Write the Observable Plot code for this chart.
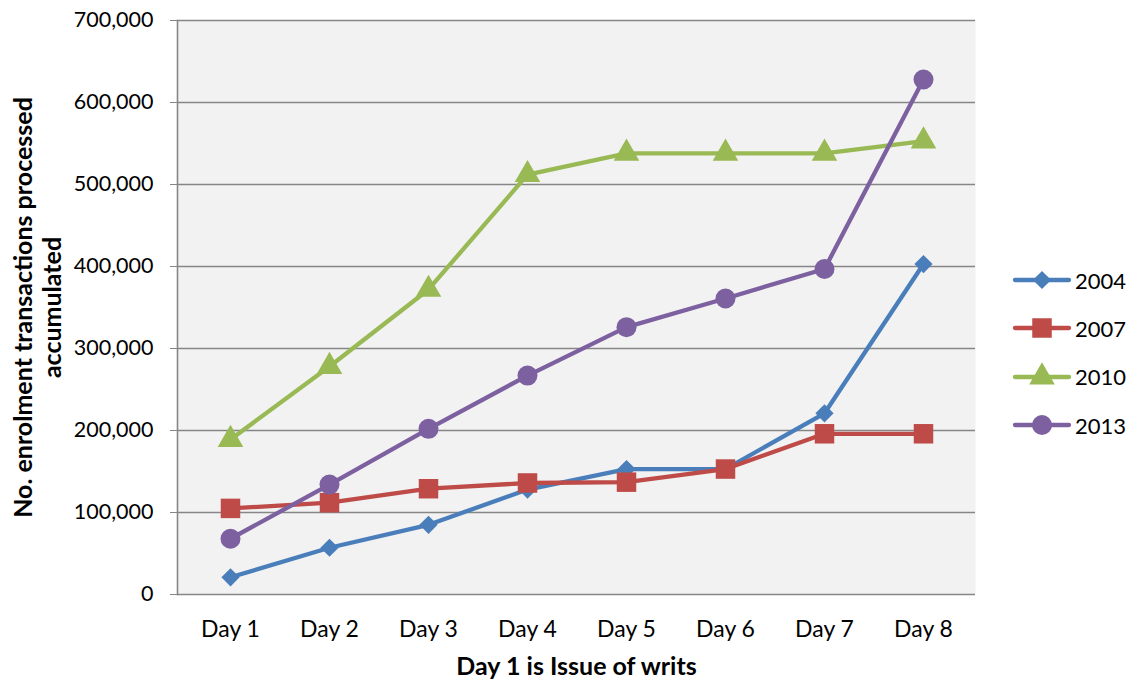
<!DOCTYPE html>
<html>
<head>
<meta charset="utf-8">
<script src="https://cdn.jsdelivr.net/npm/d3@7"></script>
<script src="https://cdn.jsdelivr.net/npm/@observablehq/plot@0.6"></script>
<style>
  html, body { margin: 0; padding: 0; background: #fff; }
  #wrap { position: relative; width: 1134px; height: 683px; font-family: Lato, "Open Sans", sans-serif; }
  #chart { position: absolute; left: 0; top: 0; }
  #legend { position: absolute; left: 1010px; top: 256px; }
  .item { display: flex; align-items: center; height: 48.3px; font-size: 22px; color: #000; }
  .item svg { margin-right: 3px; }
</style>
</head>
<body>
<div id="wrap"><div id="chart"></div><div id="legend"></div></div>
<script>
const days = ["Day 1", "Day 2", "Day 3", "Day 4", "Day 5", "Day 6", "Day 7", "Day 8"];
const series = ["2004", "2007", "2010", "2013"];
const v2004 = [21000, 57000, 85000, 128000, 153000, 153000, 221000, 403000];
const v2007 = [105000, 112000, 129000, 136000, 137000, 153000, 196000, 196000];
const v2010 = [189000, 278000, 372000, 512000, 538000, 538000, 538000, 553000];
const v2013 = [68000, 134000, 202000, 267000, 326000, 361000, 397000, 628000];
const yTicks = [0, 100000, 200000, 300000, 400000, 500000, 600000, 700000];
const colors = ["#4a7ebb", "#be4b48", "#98b954", "#7d60a0"];
const symbols = ["diamond2", "square", "triangle", "circle"];
const radii = [8.2, 11, 9.5, 10];
const yTitle = "No. enrolment transactions processed\naccumulated";
const xTitle = "Day 1 is Issue of writs";

const values = [v2004, v2007, v2010, v2013];
const data = series.flatMap((s, i) => days.map((d, j) => ({series: s, day: d, value: values[i][j]})));

const marks = [
  Plot.frame({fill: "#f2f2f2", stroke: null}),
  Plot.gridY(yTicks, {stroke: "#868686", strokeOpacity: 1, strokeWidth: 1.6}),
  Plot.frame({anchor: "left", stroke: "#868686", strokeWidth: 1.6}),
  Plot.axisY(yTicks, {tickSize: 7, tickPadding: 17, tickFormat: d3.format(","), stroke: "#868686", fill: "#000", fontSize: 21.5, label: null}),
  Plot.axisX({tickSize: 0, tickPadding: 26, fontSize: 23, fill: "#000", label: null}),
];
series.forEach((s, i) => {
  const sub = data.filter(d => d.series === s);
  marks.push(Plot.line(sub, {x: "day", y: "value", stroke: colors[i], strokeWidth: 4.3}));
  marks.push(Plot.dot(sub, {x: "day", y: "value", symbol: () => symbols[i], fill: colors[i], stroke: null, r: radii[i]}));
});
marks.push(Plot.text([yTitle], {frameAnchor: "left", textAnchor: "middle", lineAnchor: "middle", rotate: -90, dx: -140, fontSize: 25, fontWeight: "bold", lineHeight: 1.16, fill: "#000"}));
marks.push(Plot.text([xTitle], {frameAnchor: "bottom", dy: 80, fontSize: 25, fontWeight: "bold", fill: "#000"}));

const chart = Plot.plot({
  width: 1134,
  height: 683,
  marginLeft: 177,
  marginRight: 159,
  marginTop: 20,
  marginBottom: 89,
  style: {fontFamily: "Lato, 'Open Sans', sans-serif", background: "#fff", color: "#000"},
  x: {type: "point", domain: days, padding: 0.5},
  y: {domain: [0, 700000]},
  symbol: {domain: symbols, range: symbols},
  marks
});
document.getElementById("chart").appendChild(chart);

const legend = document.getElementById("legend");
series.forEach((s, i) => {
  const item = document.createElement("div");
  item.className = "item";
  const svg = d3.create("svg").attr("width", 62).attr("height", 30);
  svg.append("line").attr("x1", 5).attr("x2", 59).attr("y1", 15).attr("y2", 15)
    .attr("stroke", colors[i]).attr("stroke-width", 4.3).attr("stroke-linecap", "round");
  const symMap = {diamond2: d3.symbolDiamond2, square: d3.symbolSquare, triangle: d3.symbolTriangle, circle: d3.symbolCircle};
  svg.append("path").attr("transform", "translate(32,15)")
    .attr("d", d3.symbol(symMap[symbols[i]], Math.PI * radii[i] * radii[i])())
    .attr("fill", colors[i]);
  item.appendChild(svg.node());
  const label = document.createElement("span");
  label.textContent = s;
  item.appendChild(label);
  legend.appendChild(item);
});
</script>
</body>
</html>
